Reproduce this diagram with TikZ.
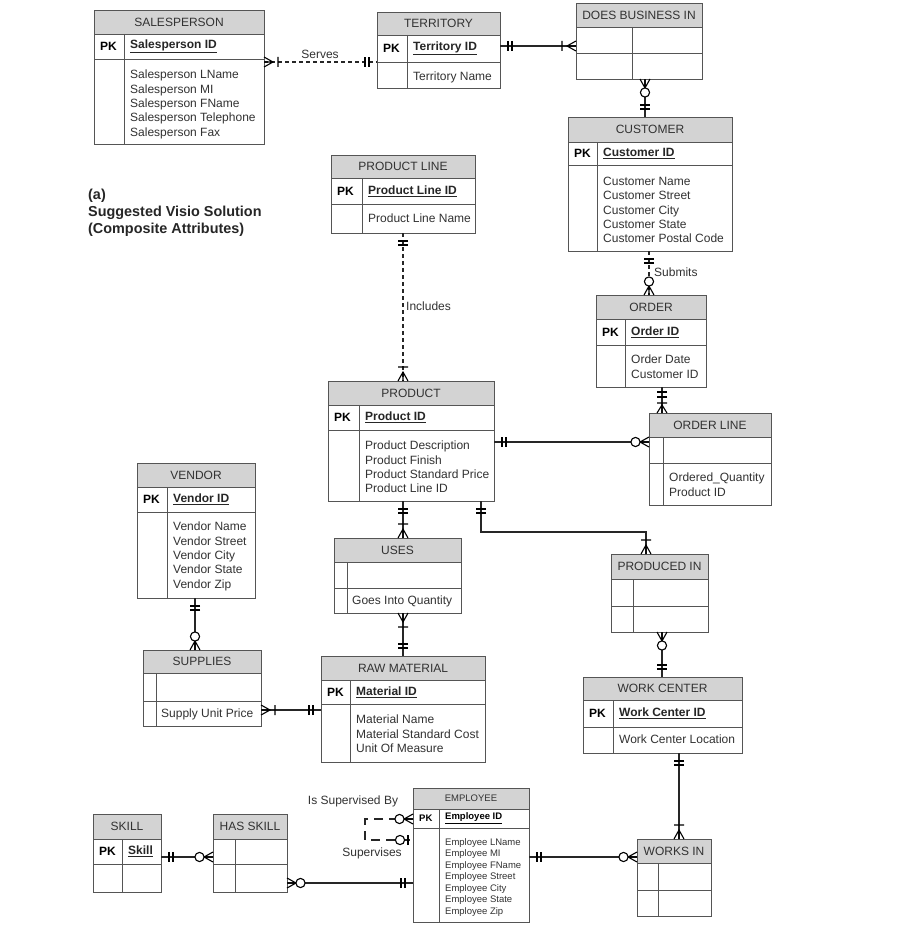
\documentclass[tikz,border=0pt]{standalone}
\usepackage{fontspec}
\setmainfont{Liberation Sans}
\usetikzlibrary{calc}
\definecolor{hdrgray}{RGB}{211,211,211}
\definecolor{framec}{RGB}{85,85,85}
\definecolor{txtc}{RGB}{50,50,50}
\tikzset{
  mone/.pic={\draw[solid,line width=1.1pt] (8,-5) -- (8,5) (12,-5) -- (12,5);},
  monec/.pic={\draw[solid,line width=1.1pt] (5,-5) -- (5,5) (10,-5) -- (10,5);},
  onemany/.pic={\draw[solid,line width=1.1pt] (0,5) -- (9,0) -- (0,-5) (0,0) -- (9,0) (14,-5) -- (14,5);},
  onemanyc/.pic={\draw[solid,line width=1.1pt] (0,5) -- (8,0) -- (0,-5) (0,0) -- (8,0) (10,-5) -- (10,5);},
  zeromany/.pic={\draw[solid,line width=1.1pt] (0,5) -- (9,0) -- (0,-5) (0,0) -- (9,0);
                 \draw[solid,line width=1.1pt,fill=white] (13.5,0) circle[radius=4.6pt];},
  zeroone/.pic={\draw[solid,line width=1.1pt] (5,-5) -- (5,5);
                \draw[solid,line width=1.1pt,fill=white] (13,0) circle[radius=4.6pt];},
}
% #1 name, #2 left, #3 top, #4 right, #5 bottom, #6 header bottom, #7 row1 bottom, #8 divider x, #9 title
\newcommand\ent[9]{%
  \fill[hdrgray] (#2,#3) rectangle (#4,#6);
  \draw[innerline] (#2,#6) -- (#4,#6) (#2,#7) -- (#4,#7) (#8,#6) -- (#8,#5);
  \node[framebox, minimum width={(#4-#2)*1pt}, minimum height={(#5-#3)*1pt}, anchor=north west] (#1) at (#2,#3) {};
  \node[ttl] (#1-t) at ({(#2+#4)/2},{(#3+#6)/2}) {#9};
  \coordinate (#1-pk) at (#2,{(#6+#7)/2});
  \coordinate (#1-ky) at (#8,{(#6+#7)/2});
  \coordinate (#1-at) at (#8,#7);
}
\begin{document}
\begin{tikzpicture}[x=1pt,y=-1pt,
  framebox/.style={draw=framec, line width=0.9pt, inner sep=0pt, outer sep=0pt},
  innerline/.style={draw=framec, line width=0.8pt},
  ttl/.style={font=\fontsize{12}{14}\selectfont, text=txtc, inner sep=0pt},
  pkt/.style={anchor=west, font=\fontsize{12}{14}\selectfont\bfseries, inner sep=0pt},
  keyt/.style={anchor=west, font=\fontsize{12}{14}\selectfont\bfseries, text=black!85, inner sep=0pt},
  att/.style={anchor=north west, align=left, font=\fontsize{12}{14.3}\selectfont, text=txtc, inner sep=0pt},
  smpkt/.style={anchor=west, font=\fontsize{9.5}{11}\selectfont\bfseries, inner sep=0pt},
  smatt/.style={anchor=north west, align=left, font=\fontsize{9.5}{11.5}\selectfont, text=txtc, inner sep=0pt},
  lbl/.style={font=\fontsize{12}{14}\selectfont, text=txtc, inner sep=0pt},
  conn/.style={draw=black!85, line width=1.3pt},
  dsh/.style={dash pattern=on 4pt off 3pt},
  dshlong/.style={dash pattern=on 9pt off 6pt},
]
\fill[white] (0,0) rectangle (906,950);
\useasboundingbox (0,0) rectangle (906,950);

% ---------- title ----------
\node[anchor=west, align=left, inner sep=0pt, font=\fontsize{14.4}{17.2}\selectfont\bfseries, text=black!85] (title) at (88,213) {(a)\\Suggested Visio Solution\\(Composite Attributes)};

% ---------- entities ----------
\ent{sp}{94}{10}{264}{144}{34}{59}{124}{SALESPERSON}
\node[pkt] (sp-p) at ($(sp-pk)+(6,0)$) {PK};
\node[keyt] (sp-k) at ($(sp-ky)+(6,0)$) {\underline{Salesperson ID}};
\node[att] (sp-a) at ($(sp-at)+(6,11)$) {Salesperson LName\\Salesperson MI\\Salesperson FName\\Salesperson Telephone\\Salesperson Fax};

\ent{te}{377}{12}{500}{88}{35}{62}{407}{TERRITORY}
\node[pkt] (te-p) at ($(te-pk)+(6,0)$) {PK};
\node[keyt] (te-k) at ($(te-ky)+(6,0)$) {\underline{Territory ID}};
\node[att] (te-a) at ($(te-at)+(6,10)$) {Territory Name};

\ent{db}{576}{3}{702}{79}{27}{53}{632}{DOES BUSINESS IN}

\ent{cu}{568}{117}{732}{251}{142}{165}{597}{CUSTOMER}
\node[pkt] (cu-p) at ($(cu-pk)+(6,0)$) {PK};
\node[keyt] (cu-k) at ($(cu-ky)+(6,0)$) {\underline{Customer ID}};
\node[att] (cu-a) at ($(cu-at)+(6,12)$) {Customer Name\\Customer Street\\Customer City\\Customer State\\Customer Postal Code};

\ent{pl}{331}{155}{475}{233}{178}{204}{362}{PRODUCT LINE}
\node[pkt] (pl-p) at ($(pl-pk)+(6,0)$) {PK};
\node[keyt] (pl-k) at ($(pl-ky)+(6,0)$) {\underline{Product Line ID}};
\node[att] (pl-a) at ($(pl-at)+(6,10)$) {Product Line Name};

\ent{or}{596}{295}{706}{387}{319}{345}{625}{ORDER}
\node[pkt] (or-p) at ($(or-pk)+(6,0)$) {PK};
\node[keyt] (or-k) at ($(or-ky)+(6,0)$) {\underline{Order ID}};
\node[att] (or-a) at ($(or-at)+(6,10)$) {Order Date\\Customer ID};

\ent{ol}{649}{413}{771}{505}{437}{463}{663}{ORDER LINE}
\node[att] (ol-a) at ($(ol-at)+(6,10)$) {Ordered\_Quantity\\Product ID};

\ent{pr}{328}{381}{494}{501}{405}{430}{359}{PRODUCT}
\node[pkt] (pr-p) at ($(pr-pk)+(6,0)$) {PK};
\node[keyt] (pr-k) at ($(pr-ky)+(6,0)$) {\underline{Product ID}};
\node[att] (pr-a) at ($(pr-at)+(6,11)$) {Product Description\\Product Finish\\Product Standard Price\\Product Line ID};

\ent{ve}{137}{463}{255}{598}{487}{512}{167}{VENDOR}
\node[pkt] (ve-p) at ($(ve-pk)+(6,0)$) {PK};
\node[keyt] (ve-k) at ($(ve-ky)+(6,0)$) {\underline{Vendor ID}};
\node[att] (ve-a) at ($(ve-at)+(6,10)$) {Vendor Name\\Vendor Street\\Vendor City\\Vendor State\\Vendor Zip};

\ent{us}{334}{538}{461}{613}{562}{588}{347}{USES}
\node[att] (us-a) at ($(us-at)+(5,8)$) {Goes Into Quantity};

\ent{su}{143}{650}{261}{726}{673}{701}{156}{SUPPLIES}
\node[att] (su-a) at ($(su-at)+(5,8)$) {Supply Unit Price};

\ent{rm}{321}{656}{485}{762}{680}{704}{350}{RAW MATERIAL}
\node[pkt] (rm-p) at ($(rm-pk)+(6,0)$) {PK};
\node[keyt] (rm-k) at ($(rm-ky)+(6,0)$) {\underline{Material ID}};
\node[att] (rm-a) at ($(rm-at)+(6,11)$) {Material Name\\Material Standard Cost\\Unit Of Measure};

\ent{pi}{611}{554}{708}{632}{579}{606}{633}{PRODUCED IN}

\ent{wc}{583}{677}{742}{753}{700}{727}{613}{WORK CENTER}
\node[pkt] (wc-p) at ($(wc-pk)+(6,0)$) {PK};
\node[keyt] (wc-k) at ($(wc-ky)+(6,0)$) {\underline{Work Center ID}};
\node[att] (wc-a) at ($(wc-at)+(6,8)$) {Work Center Location};

\ent{em}{413}{788}{529}{922}{809}{828}{439}{{\fontsize{9.5}{11}\selectfont EMPLOYEE}}
\node[smpkt] (em-p) at ($(em-pk)+(6,0)$) {PK};
\node[smpkt] (em-k) at ($(em-ky)+(6,0)$) {\underline{Employee ID}};
\node[smatt] (em-a) at ($(em-at)+(6,10)$) {Employee LName\\Employee MI\\Employee FName\\Employee Street\\Employee City\\Employee State\\Employee Zip};

\ent{sk}{93}{814}{161}{892}{839}{864}{122}{SKILL}
\node[pkt] (sk-p) at ($(sk-pk)+(6,0)$) {PK};
\node[keyt] (sk-k) at ($(sk-ky)+(6,0)$) {\underline{Skill}};

\ent{hs}{213}{814}{287}{892}{839}{864}{235}{HAS SKILL}

\ent{wi}{637}{839}{711}{916}{863}{890}{658}{WORKS IN}

% ---------- relationships ----------
% Serves
\coordinate (s1) at (sp.east |- 0,62);
\coordinate (s2) at (te.west |- 0,62);
\draw[conn,dsh] (s1) -- (s2);
\pic[rotate=0] at (s1) {onemany};
\pic[rotate=180] at (s2) {mone};
\node[lbl] (lserves) at (320,54) {Serves};

% Territory - Does business in
\coordinate (t1) at (te.east |- 0,46);
\coordinate (t2) at (db.west |- 0,46);
\draw[conn] (t1) -- (t2);
\pic[rotate=0] at (t1) {mone};
\pic[rotate=180] at (t2) {onemany};

% Does business in - Customer
\coordinate (d1) at (db.south -| 645,0);
\coordinate (d2) at (cu.north -| 645,0);
\draw[conn] (d1) -- (d2);
\pic[rotate=-90] at (d1) {zeromany};
\pic[rotate=90] at (d2) {mone};

% Customer - Order (Submits)
\coordinate (c1) at (cu.south -| 649,0);
\coordinate (c2) at (or.north -| 649,0);
\draw[conn,dsh] (c1) -- (c2);
\pic[rotate=-90] at (c1) {mone};
\pic[rotate=90] at (c2) {zeromany};
\node[lbl, anchor=west] (lsubmits) at (654,272) {Submits};

% Order - Order line
\coordinate (o1) at (or.south -| 662,0);
\coordinate (o2) at (ol.north -| 662,0);
\draw[conn] (o1) -- (o2);
\pic[rotate=-90] at (o1) {monec};
\pic[rotate=90] at (o2) {onemanyc};

% Product - Order line
\coordinate (p1) at (pr.east |- 0,442);
\coordinate (p2) at (ol.west |- 0,442);
\draw[conn] (p1) -- (p2);
\pic[rotate=0] at (p1) {mone};
\pic[rotate=180] at (p2) {zeromany};

% Product line - Product (Includes)
\coordinate (l1) at (pl.south -| 403,0);
\coordinate (l2) at (pr.north -| 403,0);
\draw[conn,dsh] (l1) -- (l2);
\pic[rotate=-90] at (l1) {mone};
\pic[rotate=90] at (l2) {onemany};
\node[lbl, anchor=west] (lincludes) at (406,306) {Includes};

% Product - Uses
\coordinate (u1) at (pr.south -| 403,0);
\coordinate (u2) at (us.north -| 403,0);
\draw[conn] (u1) -- (u2);
\pic[rotate=-90] at (u1) {mone};
\pic[rotate=90] at (u2) {onemany};

% Uses - Raw material
\coordinate (r1) at (us.south -| 403,0);
\coordinate (r2) at (rm.north -| 403,0);
\draw[conn] (r1) -- (r2);
\pic[rotate=-90] at (r1) {onemany};
\pic[rotate=90] at (r2) {mone};

% Product - Produced in
\coordinate (q1) at (pr.south -| 481,0);
\coordinate (q2) at (pi.north -| 646,0);
\draw[conn] (q1) -- (q1 |- 0,532) -- (q2 |- 0,532) -- (q2);
\pic[rotate=-90] at (q1) {mone};
\pic[rotate=90] at (q2) {onemany};

% Produced in - Work center
\coordinate (w1) at (pi.south -| 662,0);
\coordinate (w2) at (wc.north -| 662,0);
\draw[conn] (w1) -- (w2);
\pic[rotate=-90] at (w1) {zeromany};
\pic[rotate=90] at (w2) {mone};

% Work center - Works in
\coordinate (k1) at (wc.south -| 679,0);
\coordinate (k2) at (wi.north -| 679,0);
\draw[conn] (k1) -- (k2);
\pic[rotate=-90] at (k1) {mone};
\pic[rotate=90] at (k2) {onemany};

% Employee - Works in
\coordinate (m1) at (em.east |- 0,857);
\coordinate (m2) at (wi.west |- 0,857);
\draw[conn] (m1) -- (m2);
\pic[rotate=0] at (m1) {mone};
\pic[rotate=180] at (m2) {zeromany};

% Vendor - Supplies
\coordinate (v1) at (ve.south -| 195,0);
\coordinate (v2) at (su.north -| 195,0);
\draw[conn] (v1) -- (v2);
\pic[rotate=-90] at (v1) {mone};
\pic[rotate=90] at (v2) {zeromany};

% Supplies - Raw material
\coordinate (a1) at (su.east |- 0,710);
\coordinate (a2) at (rm.west |- 0,710);
\draw[conn] (a1) -- (a2);
\pic[rotate=0] at (a1) {onemany};
\pic[rotate=180] at (a2) {mone};

% Skill - Has skill
\coordinate (h1) at (sk.east |- 0,857);
\coordinate (h2) at (hs.west |- 0,857);
\draw[conn] (h1) -- (h2);
\pic[rotate=0] at (h1) {mone};
\pic[rotate=180] at (h2) {zeromany};

% Has skill - Employee
\coordinate (g1) at (hs.east |- 0,883);
\coordinate (g2) at (em.west |- 0,883);
\draw[conn] (g1) -- (g2);
\pic[rotate=0] at (g1) {zeromany};
\pic[rotate=180] at (g2) {mone};

% Employee supervises (self)
\coordinate (e1) at (em.west |- 0,819);
\coordinate (e2) at (em.west |- 0,840);
\draw[conn,dshlong] (e1) -- (e1 -| 365,0) -- (e2 -| 365,0) -- (e2);
\pic[rotate=180] at (e1) {zeromany};
\pic[rotate=180] at (e2) {zeroone};
\node[lbl] (lisby) at (353,801) {Is Supervised By};
\node[lbl] (lsup) at (372,853) {Supervises};
\end{tikzpicture}
\end{document}
